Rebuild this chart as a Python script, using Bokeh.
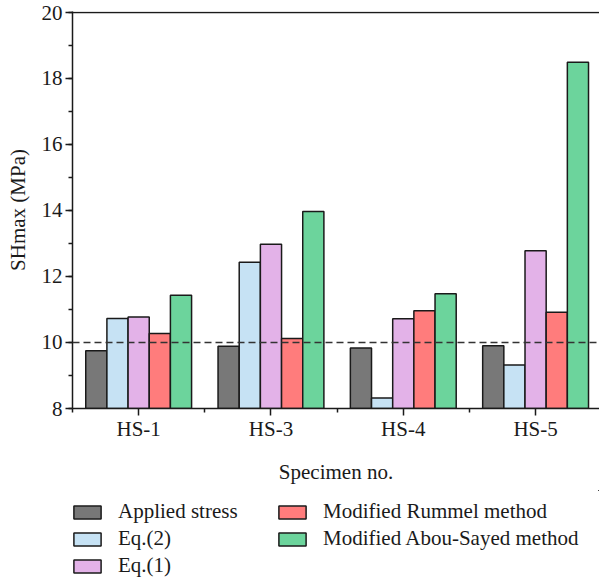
from bokeh.plotting import figure
from bokeh.layouts import column
from bokeh.models import (ColumnDataSource, FixedTicker, SingleIntervalTicker, Span,
                          Legend, LegendItem, Range1d)
from bokeh.embed import file_html
from bokeh.resources import INLINE

specimens = ["HS-1", "HS-3", "HS-4", "HS-5"]
series_names = ["Applied stress", "Eq.(2)", "Eq.(1)", "Modified Rummel method",
                "Modified Abou-Sayed method"]
applied_stress = [9.75, 9.89, 9.83, 9.90]
eq2 = [10.73, 12.43, 8.32, 9.32]
eq1 = [10.77, 12.98, 10.72, 12.78]
rummel = [10.27, 10.12, 10.96, 10.92]
abou_sayed = [11.43, 13.97, 11.48, 18.49]
reference_level = 10.0
colors = ["#787878", "#c6e2f4", "#e3b2e8", "#ff7c7c", "#6cd49c"]

all_series = [applied_stress, eq2, eq1, rummel, abou_sayed]

FONT = "'Liberation Serif', serif"
INK = "#1a1a1a"

p = figure(width=599, height=490, output_backend="svg", toolbar_location=None,
           x_range=Range1d(0.5, 4.483), y_range=Range1d(8, 20.03),
           min_border_left=72, min_border_right=0, min_border_top=11,
           min_border_bottom=82)
p.outline_line_color = None
p.xgrid.visible = False
p.ygrid.visible = False

bar_w = 0.16
n = len(all_series)
sources = []
for k, (vals, col) in enumerate(zip(all_series, colors)):
    off = (k - (n - 1) / 2) * bar_w
    src = ColumnDataSource(dict(x=[i + 1 + off for i in range(len(specimens))],
                                top=vals))
    sources.append(src)
    p.vbar(x="x", top="top", bottom=8, width=bar_w, source=src,
           fill_color=col, line_color=INK, line_width=1.5)

p.add_layout(Span(location=reference_level, dimension="width", line_color="#333333",
                  line_width=1.5, line_dash="7 4"))
p.add_layout(Span(location=20, dimension="width", line_color=INK, line_width=1.5))

xa = p.xaxis[0]
xa.ticker = FixedTicker(ticks=[1, 2, 3, 4], minor_ticks=[0.5, 1.5, 2.5, 3.5, 4.5])
xa.major_label_overrides = {i + 1: s for i, s in enumerate(specimens)}
xa.axis_label = "Specimen no."

ya = p.yaxis[0]
ya.ticker = SingleIntervalTicker(interval=2, num_minor_ticks=2)
ya.axis_label = "SHmax (MPa)"

for ax in (xa, ya):
    ax.axis_line_width = 1.5
    ax.axis_line_color = INK
    ax.major_tick_line_color = INK
    ax.minor_tick_line_color = INK
    ax.major_tick_line_width = 1.5
    ax.minor_tick_line_width = 1.5
    ax.major_tick_in = 0
    ax.major_tick_out = 7
    ax.minor_tick_in = 0
    ax.minor_tick_out = 4
    ax.major_label_text_font = FONT
    ax.major_label_text_font_size = "21px"
    ax.major_label_text_color = INK
    ax.axis_label_text_font = FONT
    ax.axis_label_text_font_size = "21px"
    ax.axis_label_text_font_style = "normal"
    ax.axis_label_text_color = INK

xa.major_label_standoff = 1
ya.major_label_standoff = 3
xa.axis_label_standoff = 16
ya.axis_label_standoff = 9

# legend panel (separate figure below the chart); its ranges keep the bars out of view
pl = figure(width=599, height=88, output_backend="svg", toolbar_location=None,
            x_range=Range1d(-20, -19), y_range=Range1d(-20, -19),
            min_border=0, min_border_left=0, min_border_right=0,
            min_border_top=0, min_border_bottom=0)
pl.axis.visible = False
pl.grid.visible = False
pl.outline_line_color = None
leg_renderers = []
for src, col in zip(sources, colors):
    leg_renderers.append(pl.vbar(x="x", top="top", bottom=8, width=bar_w, source=src,
                                 fill_color=col, line_color=INK, line_width=1.5))

items = [LegendItem(label=nm, renderers=[r]) for nm, r in zip(series_names, leg_renderers)]
legend = Legend(items=items, location=(-2, 0), nrows=3, orientation="vertical",
                glyph_width=34, glyph_height=16, label_standoff=14, label_width=155,
                label_height=24, spacing=2, padding=0, margin=0,
                label_text_font=FONT, label_text_font_size="21px",
                label_text_color=INK,
                background_fill_alpha=0, border_line_color=None)
pl.add_layout(legend, "center")

layout = column(p, pl, spacing=0)
open("out.html", "w").write(file_html(layout, INLINE))
